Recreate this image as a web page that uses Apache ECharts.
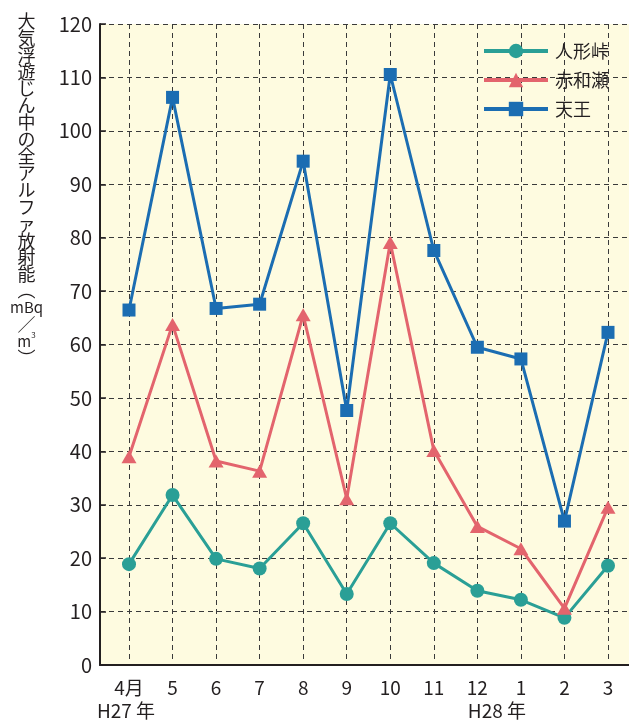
<!DOCTYPE html>
<html>
<head>
<meta charset="utf-8">
<script src="https://cdn.jsdelivr.net/npm/echarts@6/dist/echarts.min.js"></script>
<style>
html,body{margin:0;padding:0;background:#ffffff;}
#c{width:629px;height:722px;}
</style>
</head>
<body>
<div id="c"></div>
<script>
var months = ['4月', '5', '6', '7', '8', '9', '10', '11', '12', '1', '2', '3'];
var yTicks = [0, 10, 20, 30, 40, 50, 60, 70, 80, 90, 100, 110, 120];
var ningyotoge = [18.4, 31.4, 19.4, 17.6, 26.1, 12.8, 26.1, 18.6, 13.4, 11.7, 8.3, 18.1];
var akawase = [38.6, 63.5, 37.8, 35.9, 65.3, 30.7, 78.9, 39.8, 25.5, 21.3, 10.1, 29.1];
var tenno = [66.2, 106.2, 66.5, 67.3, 94.2, 47.3, 110.5, 77.4, 59.2, 57.0, 26.5, 62.0];
var seriesNames = ['人形峠', '赤和瀬', '天王'];
var yTitleChars = ['大','気','浮','遊','じ','ん','中','の','全','ア','ル','フ','ァ','放','射','能'];

var FONT = '"Noto Sans CJK JP", "Noto Sans", sans-serif';
var TXT = '#231f20';
var GRIDC = '#3a3a3a';

var chart = echarts.init(document.getElementById('c'), null, {renderer: 'canvas'});

var titleText = yTitleChars.map(function (c) { return '{a|' + c + '}'; }).join('\n')
  + '\n{p|︵}\n{s|mBq}\n{p|／}\n{s|m}{sup|3}\n{p|︶}';

var option = {
  backgroundColor: '#ffffff',
  animation: false,
  textStyle: {fontFamily: FONT},
  grid: [
    {left: 100, right: 0, top: 24, bottom: 57, show: true, backgroundColor: '#fefbe0', borderWidth: 0},
    {left: 129, right: 21, top: 24, bottom: 57}
  ],
  legend: {
    orient: 'vertical',
    left: 477,
    top: 37,
    itemWidth: 64,
    itemHeight: 18,
    itemGap: 11,
    data: seriesNames,
    lineStyle: {width: 4},
    textStyle: {fontSize: 18, color: TXT, fontFamily: FONT, padding: [0, 0, 0, 2]}
  },
  xAxis: [
    {
      gridIndex: 0, type: 'value', min: 0, max: 1,
      axisLine: {show: true, lineStyle: {color: TXT, width: 2}},
      axisTick: {show: false}, axisLabel: {show: false}, splitLine: {show: false}
    },
    {
      gridIndex: 1, type: 'category', boundaryGap: false, data: months,
      axisLine: {show: false}, axisTick: {show: false},
      splitLine: {show: true, lineStyle: {color: GRIDC, width: 1, type: [5, 4]}},
      axisLabel: {
        interval: 0, margin: 14, fontSize: 19, color: TXT, fontFamily: FONT, lineHeight: 23,
        formatter: function (v, i) {
          if (i === 0) return v + '\n{h|H27 年}';
          if (i === 9) return v + '\n{k|H28 年}';
          return v;
        },
        rich: {
          h: {fontSize: 19, color: TXT, fontFamily: FONT, lineHeight: 23, padding: [0, 6, 0, 0]},
          k: {fontSize: 19, color: TXT, fontFamily: FONT, lineHeight: 23, padding: [0, 48, 0, 0]}
        }
      }
    }
  ],
  yAxis: [
    {
      gridIndex: 0, type: 'value', min: 0, max: 120, interval: 10,
      axisLine: {show: true, lineStyle: {color: TXT, width: 2}},
      axisTick: {show: true, inside: true, length: 6, lineStyle: {color: TXT, width: 1.5}},
      splitLine: {show: true, lineStyle: {color: GRIDC, width: 1, type: [5, 4]}},
      axisLabel: {
        margin: 8, fontSize: 20, color: TXT, fontFamily: FONT,
        formatter: function (v) { return yTicks.indexOf(v) >= 0 ? String(v) : ''; }
      }
    },
    {gridIndex: 1, type: 'value', min: 0, max: 120, show: false, splitLine: {show: false}}
  ],
  graphic: [
    {
      type: 'text', left: 10, top: 12,
      style: {
        text: titleText,
        align: 'center',
        fill: TXT,
        rich: {
          a: {fontSize: 18, lineHeight: 16.9, fontFamily: FONT, fill: TXT, align: 'center'},
          p: {fontSize: 18, lineHeight: 14, fontFamily: FONT, fill: TXT, align: 'center'},
          s: {fontSize: 15, lineHeight: 20, fontFamily: FONT, fill: TXT, align: 'center'},
          sup: {fontSize: 8, lineHeight: 20, fontFamily: FONT, fill: TXT, verticalAlign: 'top', padding: [0, 0, 8, 0]}
        }
      }
    }
  ],
  series: [
    {
      name: seriesNames[0], type: 'line', xAxisIndex: 1, yAxisIndex: 1, data: ningyotoge,
      symbol: 'circle', symbolSize: 14,
      lineStyle: {color: '#2a9f96', width: 3},
      itemStyle: {color: '#2a9f96'}
    },
    {
      name: seriesNames[1], type: 'line', xAxisIndex: 1, yAxisIndex: 1, data: akawase,
      symbol: 'triangle', symbolSize: [15, 13],
      lineStyle: {color: '#e3646d', width: 3},
      itemStyle: {color: '#e3646d'}
    },
    {
      name: seriesNames[2], type: 'line', xAxisIndex: 1, yAxisIndex: 1, data: tenno,
      symbol: 'rect', symbolSize: 13,
      lineStyle: {color: '#1b6db2', width: 3},
      itemStyle: {color: '#1b6db2'}
    }
  ]
};
chart.setOption(option);
</script>
</body>
</html>
